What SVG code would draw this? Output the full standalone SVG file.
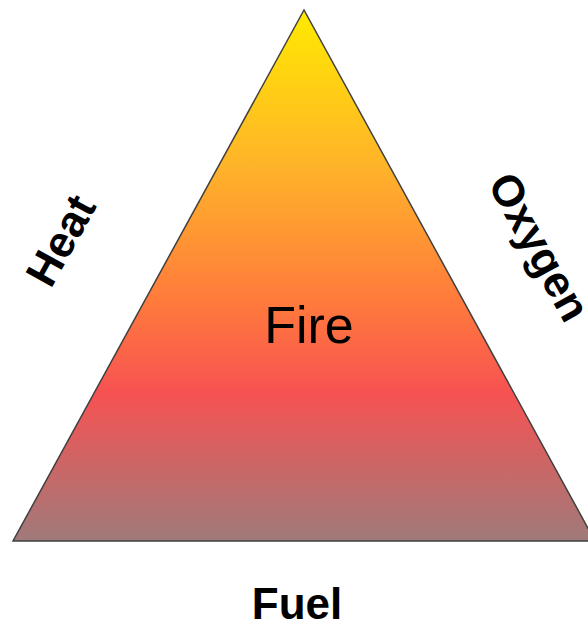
<svg xmlns="http://www.w3.org/2000/svg" width="588" height="626" viewBox="0 0 588 626">
<defs>
<linearGradient id="g" x1="0" y1="10" x2="0" y2="541" gradientUnits="userSpaceOnUse">
<stop offset="0" stop-color="#FFEA00"/>
<stop offset="0.3" stop-color="#FFB22A"/>
<stop offset="0.55" stop-color="#FF7A3C"/>
<stop offset="0.72" stop-color="#F75252"/>
<stop offset="1" stop-color="#A07A7A"/>
</linearGradient>
<style>
.lbl{font-family:"Liberation Sans",Arial,sans-serif;fill:#000;}
.b{font-weight:bold;font-size:44px;}
</style>
</defs>
<g id="triangle">
<polygon points="304,10 13,541 595,541" fill="url(#g)" stroke="#404040" stroke-width="1.5"/>
<text class="lbl" x="309" y="343" font-size="52" text-anchor="middle">Fire</text>
</g>
<g id="heat"><text class="lbl b" transform="translate(60,240) rotate(-61)" text-anchor="middle" dy="16">Heat</text></g>
<g id="oxygen"><text class="lbl b" transform="translate(515,168) rotate(61)" dy="32">Oxygen</text></g>
<g id="fuel"><text class="lbl b" x="297" y="619" text-anchor="middle" font-size="44">Fuel</text></g>
</svg>
